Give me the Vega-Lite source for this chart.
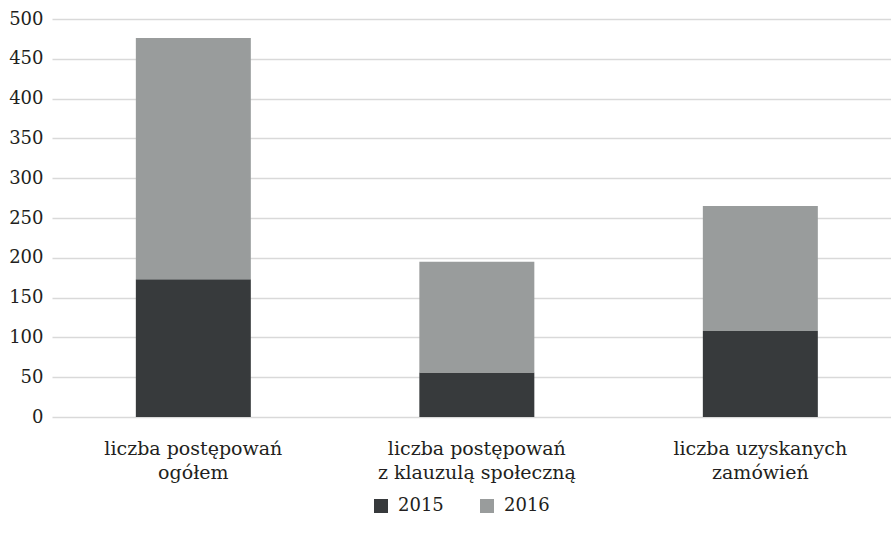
{
  "$schema": "https://vega.github.io/schema/vega-lite/v6.json",
  "width": 839,
  "height": 398,
  "autosize": {"type": "none"},
  "padding": {"left": 52, "top": 19, "right": 0, "bottom": 116},
  "background": "white",
  "config": {
    "view": {"stroke": null},
    "font": "DejaVu Serif"
  },
  "data": {
    "values": [
      {"kategoria": "liczba postępowań\nogółem", "rok": "2015", "order": 1, "wartosc": 173},
      {"kategoria": "liczba postępowań\nogółem", "rok": "2016", "order": 2, "wartosc": 303},
      {"kategoria": "liczba postępowań\nz klauzulą społeczną", "rok": "2015", "order": 1, "wartosc": 56},
      {"kategoria": "liczba postępowań\nz klauzulą społeczną", "rok": "2016", "order": 2, "wartosc": 139},
      {"kategoria": "liczba uzyskanych\nzamówień", "rok": "2015", "order": 1, "wartosc": 108},
      {"kategoria": "liczba uzyskanych\nzamówień", "rok": "2016", "order": 2, "wartosc": 157}
    ]
  },
  "mark": {"type": "bar"},
  "encoding": {
    "x": {
      "field": "kategoria",
      "type": "nominal",
      "sort": null,
      "scale": {"paddingInner": 0.5944, "paddingOuter": 0.2769, "align": 0.534},
      "axis": {
        "title": null,
        "domain": false,
        "ticks": false,
        "labelAngle": 0,
        "labelFont": "DejaVu Serif",
        "labelFontSize": 19,
        "labelColor": "#231f20",
        "labelPadding": 22,
        "labelLineHeight": 24,
        "labelLimit": 400,
        "labelExpr": "split(datum.label, '\\n')"
      }
    },
    "y": {
      "field": "wartosc",
      "type": "quantitative",
      "stack": "zero",
      "scale": {"domain": [0, 500], "nice": false},
      "axis": {
        "title": null,
        "domain": false,
        "ticks": false,
        "values": [0, 50, 100, 150, 200, 250, 300, 350, 400, 450, 500],
        "labelFont": "DejaVu Serif",
        "labelFontSize": 18,
        "labelColor": "#231f20",
        "labelPadding": 9,
        "gridColor": "#d9d9d9",
        "gridWidth": 1.6
      }
    },
    "color": {
      "field": "rok",
      "type": "nominal",
      "scale": {"domain": ["2015", "2016"], "range": ["#373a3c", "#999c9c"]},
      "legend": {
        "title": null,
        "orient": "none",
        "direction": "horizontal",
        "legendX": 320,
        "legendY": 478,
        "symbolType": "square",
        "symbolSize": 196,
        "symbolStrokeWidth": 0,
        "labelFont": "DejaVu Serif",
        "labelFontSize": 18,
        "labelColor": "#231f20",
        "labelOffset": 8,
        "columnPadding": 34
      }
    },
    "order": {"field": "order", "type": "quantitative"}
  }
}
